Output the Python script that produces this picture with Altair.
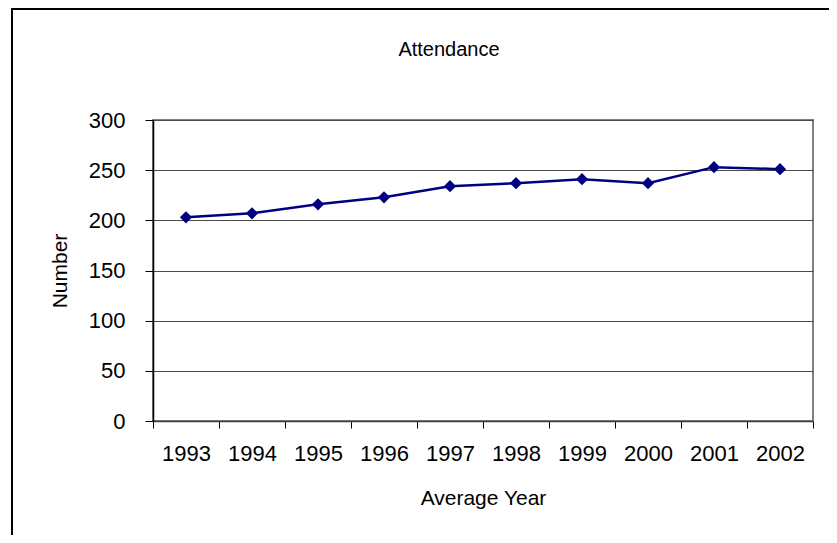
import altair as alt
import pandas as pd

years = ["1993", "1994", "1995", "1996", "1997", "1998", "1999", "2000", "2001", "2002"]
attendance = [203, 207, 216, 223, 234, 237, 241, 237, 253, 251]
y_ticks = [0, 50, 100, 150, 200, 250, 300]
title_text = ["Attendance"]

df = pd.DataFrame({"year": years, "number": attendance})
FONT = "Liberation Sans"

x_enc = alt.X(
    "year:O",
    sort=years,
    scale=alt.Scale(paddingInner=0, paddingOuter=0),
    axis=alt.Axis(
        title="Average Year",
        labelAngle=0,
        tickBand="extent",
        tickSize=7,
        tickColor="#000000",
        domainColor="#404040",
        domainWidth=1.5,
        labelFont=FONT,
        labelFontSize=22,
        labelColor="#000000",
        labelPadding=15,
        titleFont=FONT,
        titleFontSize=21,
        titleFontWeight="normal",
        titleColor="#000000",
        titleBaseline="middle",
        titleY=77,
        grid=False,
    ),
)
y_enc = alt.Y(
    "number:Q",
    scale=alt.Scale(domain=[0, 300], nice=False, zero=True),
    axis=alt.Axis(
        title="Number",
        values=y_ticks,
        tickSize=8,
        tickColor="#000000",
        domainColor="#000000",
        domainWidth=1.5,
        labelFont=FONT,
        labelFontSize=22,
        labelColor="#000000",
        labelPadding=20,
        titleFont=FONT,
        titleFontSize=21,
        titleFontWeight="normal",
        titleColor="#000000",
        titleBaseline="middle",
        titleAngle=-90,
        titleX=-93,
        titleY=150.5,
        grid=True,
        gridColor="#4a4a4a",
        gridWidth=1,
    ),
)

base = alt.Chart(df)
line = base.mark_line(color="#000080", strokeWidth=2.5).encode(x=x_enc, y=y_enc)
points = base.mark_point(
    shape="diamond", filled=True, size=150, color="#000080", opacity=1
).encode(x=alt.X("year:O", sort=years), y="number:Q")

one = alt.Chart(pd.DataFrame({"t": title_text}))
frame = one.mark_rect(
    fillOpacity=0, stroke="#000000", strokeWidth=2, clip=False
).encode(
    x=alt.value(-141), x2=alt.value(720), y=alt.value(-111), y2=alt.value(460)
)
title = one.mark_text(
    font=FONT, fontSize=20, color="#000000", align="center", baseline="middle"
).encode(text="t:N", x=alt.value(296), y=alt.value(-70))

chart = (
    alt.layer(frame, line, points, title)
    .properties(
        width=660,
        height=301,
        autosize=alt.AutoSizeParams(type="none"),
        padding={"left": 145, "top": 112, "right": 16, "bottom": 114},
        background="#ffffff",
    )
    .configure_view(stroke="#808080", strokeWidth=2)
)

chart.save("out.html", embed_options={"renderer": "svg", "actions": False})
